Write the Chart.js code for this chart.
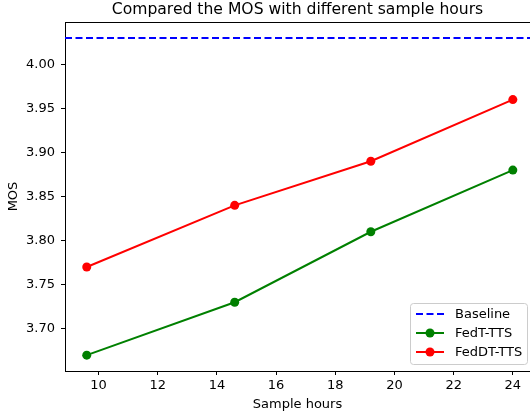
<!DOCTYPE html>
<html>
<head>
<meta charset="utf-8">
<script src="https://cdn.jsdelivr.net/npm/chart.js@4/dist/chart.umd.min.js"></script>
<style>
html,body{margin:0;padding:0;background:#fff;overflow:hidden;}
#wrap{width:530px;height:416px;position:relative;}
canvas{display:block;}
</style>
</head>
<body>
<div id="wrap"><canvas id="c" width="530" height="416"></canvas></div>
<script>
// ---- data ----
const sampleHours = [9.6, 14.6, 19.2, 24];
const fedTTTS = [3.67, 3.73, 3.81, 3.88];
const fedDTTTS = [3.77, 3.84, 3.89, 3.96];
const baselineMOS = 4.03;
const xTicks = [10, 12, 14, 16, 18, 20, 22, 24];
const yTicks = [3.70, 3.75, 3.80, 3.85, 3.90, 3.95, 4.00];
const xLimits = [8.865, 24.58];
const yLimits = [3.652, 4.048];
const seriesNames = ['Baseline', 'FedT-TTS', 'FedDT-TTS'];

const FONT = 'DejaVu Sans';
const FS = 13;
const toPts = (xs, ys) => xs.map((x, i) => ({x: x, y: ys[i]}));

const framePlugin = {
  id: 'frame',
  afterDraw(chart) {
    const {ctx, chartArea: a} = chart;
    ctx.save();
    ctx.strokeStyle = '#000';
    ctx.lineWidth = 1;
    // top spine (right spine lies outside the visible area)
    ctx.beginPath();
    ctx.moveTo(Math.round(a.left), Math.round(a.top) + 0.5);
    ctx.lineTo(a.right, Math.round(a.top) + 0.5);
    ctx.stroke();
    // legend
    const w = 117, h = 61;
    const bx = a.right - 3 - w, by = a.bottom - 7 - h;
    ctx.beginPath();
    if (ctx.roundRect) ctx.roundRect(bx + 0.5, by + 0.5, w, h, 3); else ctx.rect(bx + 0.5, by + 0.5, w, h);
    ctx.fillStyle = 'rgba(255,255,255,0.8)';
    ctx.fill();
    ctx.strokeStyle = '#cccccc';
    ctx.stroke();
    ctx.font = FS + 'px "' + FONT + '"';
    ctx.textBaseline = 'middle';
    ctx.textAlign = 'left';
    chart.data.datasets.forEach((ds, i) => {
      const yy = by + 11 + i * 19;
      const x0 = bx + 6, x1 = bx + 34;
      ctx.strokeStyle = ds.borderColor;
      ctx.lineWidth = ds.borderWidth;
      ctx.setLineDash(ds.borderDash || []);
      ctx.beginPath();
      ctx.moveTo(x0, yy); ctx.lineTo(x1, yy);
      ctx.stroke();
      ctx.setLineDash([]);
      if (ds.pointRadius > 0) {
        ctx.fillStyle = ds.pointBackgroundColor;
        ctx.beginPath();
        ctx.arc((x0 + x1) / 2, yy, ds.pointRadius, 0, Math.PI * 2);
        ctx.fill();
      }
      ctx.fillStyle = '#000';
      ctx.fillText(ds.label, bx + 45, yy + 0.5);
    });
    ctx.restore();
  }
};

new Chart(document.getElementById('c'), {
  type: 'line',
  data: {
    datasets: [
      {
        label: seriesNames[0],
        data: toPts(xLimits, [baselineMOS, baselineMOS]),
        borderColor: '#0000ff',
        backgroundColor: '#0000ff',
        borderWidth: 2,
        borderDash: [7, 3.5],
        pointRadius: 0,
        pointBackgroundColor: '#0000ff'
      },
      {
        label: seriesNames[1],
        data: toPts(sampleHours, fedTTTS),
        borderColor: '#008000',
        backgroundColor: '#008000',
        borderWidth: 2,
        pointRadius: 4.5,
        pointBackgroundColor: '#008000',
        pointBorderWidth: 0
      },
      {
        label: seriesNames[2],
        data: toPts(sampleHours, fedDTTTS),
        borderColor: '#ff0000',
        backgroundColor: '#ff0000',
        borderWidth: 2,
        pointRadius: 4.5,
        pointBackgroundColor: '#ff0000',
        pointBorderWidth: 0
      }
    ]
  },
  options: {
    responsive: false,
    animation: false,
    devicePixelRatio: 1,
    layout: {autoPadding: false, padding: {left: 0, right: 0, top: 0, bottom: 0}},
    plugins: {
      legend: {display: false},
      tooltip: {enabled: false},
      title: {
        display: true,
        text: 'Compared the MOS with different sample hours',
        color: '#000',
        font: {family: FONT, size: 15.6, weight: 'normal'},
        padding: {top: 0.6, bottom: 2.7},
        fullSize: false
      }
    },
    scales: {
      x: {
        type: 'linear',
        min: xLimits[0],
        max: xLimits[1],
        afterBuildTicks(s) { s.ticks = xTicks.map(v => ({value: v})); },
        afterFit(s) { s.height = 45; },
        ticks: {
          color: '#000',
          font: {family: FONT, size: FS},
          padding: 3,
          maxRotation: 0,
          callback: v => String(v)
        },
        grid: {drawOnChartArea: false, drawTicks: true, tickLength: 4, color: '#000'},
        border: {display: true, color: '#000', width: 1},
        title: {
          display: true,
          text: 'Sample hours',
          color: '#000',
          font: {family: FONT, size: FS},
          padding: {top: 0, bottom: 3.2}
        }
      },
      y: {
        type: 'linear',
        min: yLimits[0],
        max: yLimits[1],
        afterBuildTicks(s) { s.ticks = yTicks.map(v => ({value: v})); },
        afterFit(s) { s.width = 65; },
        ticks: {
          color: '#000',
          font: {family: FONT, size: FS},
          padding: 6,
          callback: v => Number(v).toFixed(2)
        },
        grid: {drawOnChartArea: false, drawTicks: true, tickLength: 4, color: '#000'},
        border: {display: true, color: '#000', width: 1},
        title: {
          display: true,
          text: 'MOS',
          color: '#000',
          font: {family: FONT, size: FS},
          padding: {top: 6.2, bottom: 0}
        }
      }
    }
  },
  plugins: [framePlugin]
});
</script>
</body>
</html>
